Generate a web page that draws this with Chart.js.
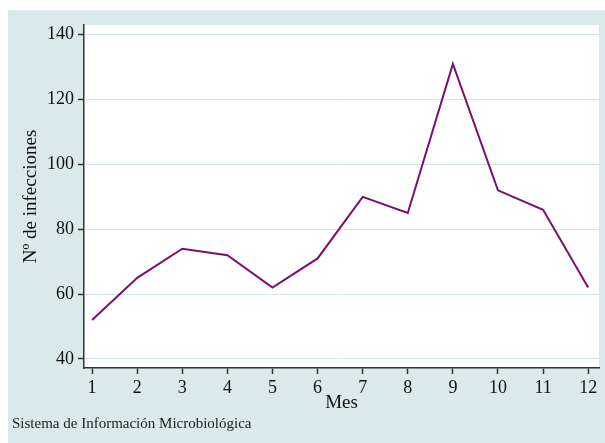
<!DOCTYPE html>
<html>
<head>
<meta charset="utf-8">
<script src="https://cdn.jsdelivr.net/npm/chart.js@4.4.1/dist/chart.umd.min.js"></script>
<style>
  html, body { margin: 0; padding: 0; background: #ffffff; }
  #panel { position: absolute; left: 8px; top: 10px; width: 597px; height: 433px; background: #dae9e9; }
  #chart { position: absolute; left: 0; top: 0; }
  #caption { position: absolute; left: 4px; top: 405px; font-family: 'Liberation Serif', 'DejaVu Serif', serif; font-size: 15px; color: #222; }
</style>
</head>
<body>
<div id="panel">
  <canvas id="chart" width="597" height="433"></canvas>
  <div id="caption">Sistema de Información Microbiológica</div>
</div>
<script>
// --- データ ---
const months = [1, 2, 3, 4, 5, 6, 7, 8, 9, 10, 11, 12];
const infections = [52, 65, 74, 72, 62, 71, 90, 85, 131, 92, 86, 62];
const yTickValues = [40, 60, 80, 100, 120, 140];
const xTickValues = months;

const SERIF = "'Liberation Serif', 'DejaVu Serif', serif";
const lineColor = '#7a0f6f';

// プロット領域を白で塗る
const plotBg = {
  id: 'plotBg',
  beforeDraw(chart) {
    const a = chart.chartArea;
    const c = chart.ctx;
    c.save();
    c.fillStyle = '#ffffff';
    c.fillRect(a.left, a.top, a.right - a.left, a.bottom - a.top);
    c.restore();
  }
};

const chart = new Chart(document.getElementById('chart'), {
  type: 'line',
  data: {
    datasets: [{
      data: months.map((m, i) => ({ x: m, y: infections[i] })),
      borderColor: lineColor,
      borderWidth: 2,
      pointRadius: 0,
      tension: 0,
      fill: false
    }]
  },
  options: {
    responsive: false,
    animation: false,
    layout: { padding: { top: 15, right: 6, left: 0, bottom: 0 } },
    plugins: { legend: { display: false }, tooltip: { enabled: false } },
    scales: {
      x: {
        type: 'linear',
        min: 0.82,
        max: 12.24,
        afterBuildTicks: s => { s.ticks = xTickValues.map(v => ({ value: v })); },
        afterFit: s => { s.height = 75; },
        grid: { drawOnChartArea: false, color: '#333', tickLength: 6, tickWidth: 1.5 },
        border: { display: true, color: '#333', width: 1.5 },
        ticks: { color: '#111', font: { family: SERIF, size: 18 }, padding: 3, maxRotation: 0 },
        title: { display: true, text: 'Mes', color: '#111', font: { family: SERIF, size: 19 }, padding: { top: 0, bottom: 29 } }
      },
      y: {
        min: 37.2,
        max: 143,
        afterBuildTicks: s => { s.ticks = yTickValues.map(v => ({ value: v })); },
        afterFit: s => { s.width = 76; },
        grid: { color: '#d3e6e8', tickColor: '#333', tickLength: 6, tickWidth: 1.5 },
        border: { display: true, color: '#333', width: 1.5 },
        ticks: { color: '#111', font: { family: SERIF, size: 18 }, padding: 4 },
        title: { display: true, text: 'Nº de infecciones', color: '#111', font: { family: SERIF, size: 19 }, padding: { top: 12, bottom: 0 } }
      }
    }
  },
  plugins: [plotBg]
});
</script>
</body>
</html>
